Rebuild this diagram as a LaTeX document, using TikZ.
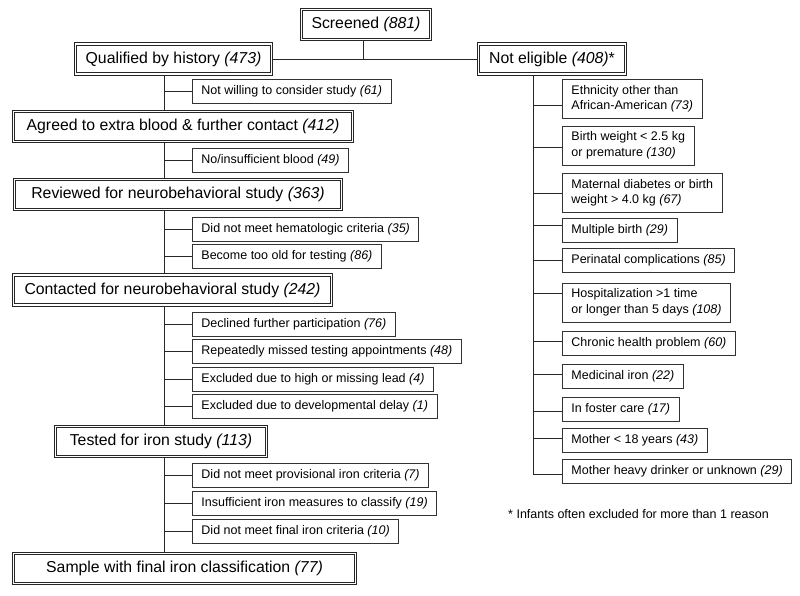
\documentclass[tikz,border=0pt]{standalone}
\usepackage{fontspec}
\setmainfont{Liberation Sans}
\tikzset{
    stage/.style={rectangle, draw=black!85, double, double distance=1.4pt, line width=0.9pt,
        outer sep=1.6pt, inner sep=0pt, minimum height=30pt, font=\fontsize{15.8}{18}\selectfont},
    reason/.style={rectangle, draw=black!80, line width=0.9pt, anchor=west, align=left,
        inner xsep=9pt, inner ysep=2pt, minimum height=24pt, font=\fontsize{12.5}{15.5}\selectfont},
    tworow/.style={minimum height=39pt},
    link/.style={draw=black!85, line width=0.9pt},
}
\begin{document}
\begin{tikzpicture}[x=1pt, y=-1pt]
        \useasboundingbox (0,0) rectangle (800,595);
        % main stages
        \node[stage, minimum width=129pt] (screened) at (366,24.5) {Screened \textit{(881)}};
        \node[stage, minimum width=196pt] (qualified) at (173.5,59) {Qualified by history \textit{(473)}};
        \node[stage, minimum width=147pt] (noteligible) at (552,59) {Not eligible \textit{(408)}*};
        \node[stage, minimum width=339pt] (agreed) at (183,126.5) {Agreed to extra blood \& further contact \textit{(412)}};
        \node[stage, minimum width=327pt] (reviewed) at (178,194.5) {Reviewed for neurobehavioral study \textit{(363)}};
        \node[stage, minimum width=318pt] (contacted) at (172.5,290) {Contacted for neurobehavioral study \textit{(242)}};
        \node[stage, minimum width=211pt] (tested) at (161,441.5) {Tested for iron study \textit{(113)}};
        \node[stage, minimum width=342pt] (sample) at (184.5,568.5) {Sample with final iron classification \textit{(77)}};
        % exclusions on the left
        \node[reason] (unwilling) at (192,91.5) {Not willing to consider study \textit{(61)}};
        \node[reason] (blood) at (192,160.5) {No/insufficient blood \textit{(49)}};
        \node[reason] (hema) at (192,229) {Did not meet hematologic criteria \textit{(35)}};
        \node[reason] (tooold) at (192,256) {Become too old for testing \textit{(86)}};
        \node[reason] (declined) at (192,324) {Declined further participation \textit{(76)}};
        \node[reason] (missed) at (192,351.5) {Repeatedly missed testing appointments \textit{(48)}};
        \node[reason] (lead) at (192,379) {Excluded due to high or missing lead \textit{(4)}};
        \node[reason] (delay) at (192,406.5) {Excluded due to developmental delay \textit{(1)}};
        \node[reason] (provisional) at (192,475.5) {Did not meet provisional iron criteria \textit{(7)}};
        \node[reason] (measures) at (192,503.5) {Insufficient iron measures to classify \textit{(19)}};
        \node[reason] (final) at (192,531) {Did not meet final iron criteria \textit{(10)}};
        % reasons not eligible
        \node[reason, tworow] (ethnicity) at (562,99) {Ethnicity other than\\African-American \textit{(73)}};
        \node[reason, tworow] (birthweight) at (562,145.5) {Birth weight < 2.5 kg\\or premature \textit{(130)}};
        \node[reason, tworow] (diabetes) at (562,193) {Maternal diabetes or birth\\weight > 4.0 kg \textit{(67)}};
        \node[reason] (multiple) at (562,230) {Multiple birth \textit{(29)}};
        \node[reason] (perinatal) at (562,260) {Perinatal complications \textit{(85)}};
        \node[reason, tworow] (hospital) at (562,302.5) {Hospitalization >1 time\\or longer than 5 days \textit{(108)}};
        \node[reason] (chronic) at (562,343) {Chronic health problem \textit{(60)}};
        \node[reason] (medicinal) at (562,376.5) {Medicinal iron \textit{(22)}};
        \node[reason] (foster) at (562,409.5) {In foster care \textit{(17)}};
        \node[reason] (young) at (562,440) {Mother < 18 years \textit{(43)}};
        \node[reason] (drinker) at (562,471) {Mother heavy drinker or unknown \textit{(29)}};
        \node[font=\fontsize{12.5}{15}\selectfont] (footnote) at (638.5,514) {* Infants often excluded for more than 1 reason};
        % trunks
        \coordinate (split) at (363,59);
        \coordinate (ltrunk) at (164,59);
        \coordinate (rtrunk) at ([xshift=-19pt]noteligible.south);
        \draw[link] (screened.south -| split) -- (split);
        \draw[link] (qualified.east) -- (noteligible.west);
        \foreach \a/\b in {qualified/agreed, agreed/reviewed, reviewed/contacted, contacted/tested, tested/sample}
            \draw[link] (\a.south -| ltrunk) -- (\b.north -| ltrunk);
        \foreach \r in {unwilling, blood, hema, tooold, declined, missed, lead, delay, provisional, measures, final}
            \draw[link] (\r.west) -- (\r.west -| ltrunk);
        \draw[link] (rtrunk) |- ([yshift=-3pt]drinker.west);
        \foreach \r/\s in {ethnicity/-6.5, birthweight/-1.5, diabetes/0, multiple/5, perinatal/0, hospital/9.5,
                chronic/2, medicinal/2.5, foster/-1.5, young/2}
            \draw[link] ([yshift=\s pt]\r.west) -- ++(-29,0);
    \end{tikzpicture}
\end{document}
